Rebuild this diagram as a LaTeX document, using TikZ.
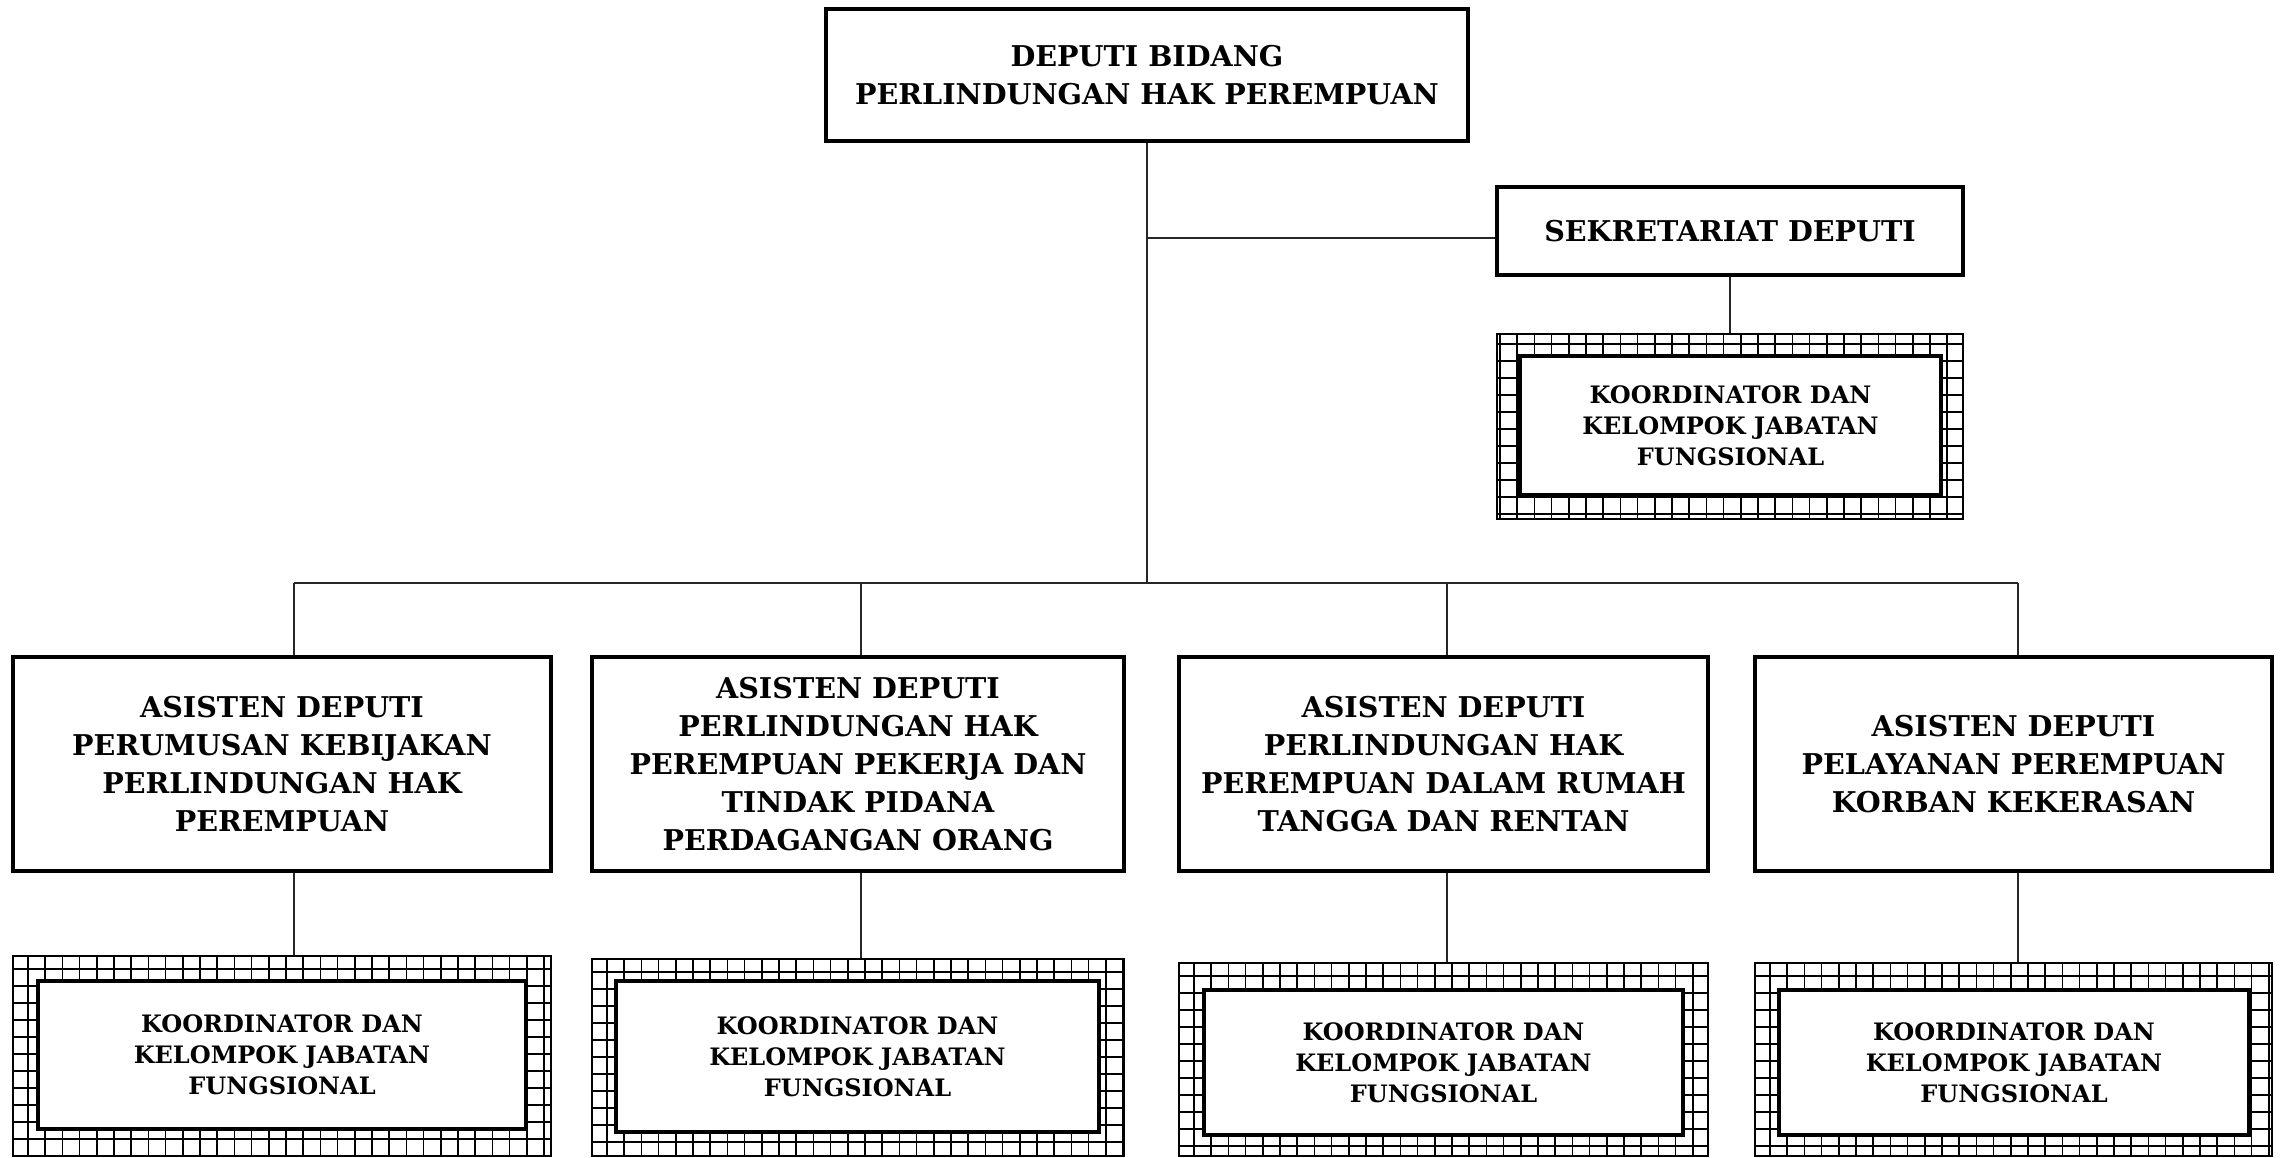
\documentclass[tikz,border=0pt]{standalone}
\usepackage{fontspec}
\setmainfont{DejaVu Serif}
\newcommand{\bigtxt}{\fontsize{28.6}{38}\selectfont\bfseries}
\newcommand{\smalltxt}{\fontsize{24}{31}\selectfont\bfseries}
\begin{document}
\begin{tikzpicture}[x=1pt,y=1pt,
  box/.style={draw, line width=3.5pt, rectangle, inner sep=0pt, align=center, font=\bigtxt, fill=white},
  kinner/.style={draw, line width=3.2pt, rectangle, inner sep=0pt, align=center, font=\smalltxt, fill=white},
  kframe/.style 2 args={draw, line width=2.8pt, rectangle, inner sep=0pt, fill=white,
    path picture={
      \foreach \i in {0,...,32} {\draw[line width=1.7pt] ([xshift=#1pt+\i*17.2pt]path picture bounding box.south west) -- ++(0pt,300pt);}
      \foreach \j in {0,...,13} {\draw[line width=1.7pt] ([yshift=-#2pt-\j*17pt]path picture bounding box.north west) -- ++(600pt,0pt);}
    }},
  conn/.style={line width=1.4pt, draw=black!85}
]
\useasboundingbox (0,0) rectangle (2285,1158);

% top
\node[box, minimum width=642, minimum height=132] (dep) at (1147,1083) {DEPUTI BIDANG\\PERLINDUNGAN HAK PEREMPUAN};
\node[box, minimum width=466, minimum height=88] (sek) at (1730,927) {SEKRETARIAT DEPUTI};
\node[kframe={3}{10}, minimum width=466, minimum height=185] (sko) at (1730,731.5) {};
\node[kinner, minimum width=421, minimum height=139] (ski) at (1730.5,732.5) {KOORDINATOR DAN\\KELOMPOK JABATAN\\FUNGSIONAL};

% level 2
\node[box, minimum width=538, minimum height=214] (a1) at (282,394) {ASISTEN DEPUTI\\PERUMUSAN KEBIJAKAN\\PERLINDUNGAN HAK\\PEREMPUAN};
\node[box, minimum width=532, minimum height=214] (a2) at (858,394) {ASISTEN DEPUTI\\PERLINDUNGAN HAK\\PEREMPUAN PEKERJA DAN\\TINDAK PIDANA\\PERDAGANGAN ORANG};
\node[box, minimum width=529, minimum height=214] (a3) at (1443.5,394) {ASISTEN DEPUTI\\PERLINDUNGAN HAK\\PEREMPUAN DALAM RUMAH\\TANGGA DAN RENTAN};
\node[box, minimum width=517, minimum height=214] (a4) at (2013.5,394) {ASISTEN DEPUTI\\PELAYANAN PEREMPUAN\\KORBAN KEKERASAN};

% level 3 frames
\node[kframe={15}{13}, minimum width=538, minimum height=200] (k1o) at (282,102) {};
\node[kframe={15}{13}, minimum width=532, minimum height=197] (k2o) at (858,100.5) {};
\node[kframe={15}{13}, minimum width=529, minimum height=193] (k3o) at (1443.5,98.5) {};
\node[kframe={15}{13}, minimum width=517, minimum height=193] (k4o) at (2013.5,98.5) {};
\node[kinner, minimum width=488, minimum height=148] (k1i) at (282,103) {KOORDINATOR DAN\\KELOMPOK JABATAN\\FUNGSIONAL};
\node[kinner, minimum width=483, minimum height=151] (k2i) at (857.5,101.5) {KOORDINATOR DAN\\KELOMPOK JABATAN\\FUNGSIONAL};
\node[kinner, minimum width=479, minimum height=145] (k3i) at (1443.5,95.5) {KOORDINATOR DAN\\KELOMPOK JABATAN\\FUNGSIONAL};
\node[kinner, minimum width=470, minimum height=145] (k4i) at (2014,95.5) {KOORDINATOR DAN\\KELOMPOK JABATAN\\FUNGSIONAL};

% connectors
\coordinate (busC) at (1147,575);
\coordinate (busL) at (294,575);
\coordinate (busR) at (2018,575);
\coordinate (d2) at (861,575);
\coordinate (d3) at (1447,575);
\coordinate (sekj) at (1147,920);
\draw[conn] (dep.south) -- (busC);
\draw[conn] (busL) -- (busR);
\draw[conn] (sekj) -- (sekj -| sek.west);
\draw[conn] (sek.south) -- (sko.north);
\draw[conn] (busL) -- (busL |- a1.north);
\draw[conn] (d2) -- (d2 |- a2.north);
\draw[conn] (d3) -- (d3 |- a3.north);
\draw[conn] (busR) -- (busR |- a4.north);
\draw[conn] (busL |- a1.south) -- (busL |- k1o.north);
\draw[conn] (d2 |- a2.south) -- (d2 |- k2o.north);
\draw[conn] (d3 |- a3.south) -- (d3 |- k3o.north);
\draw[conn] (busR |- a4.south) -- (busR |- k4o.north);
\end{tikzpicture}
\end{document}
